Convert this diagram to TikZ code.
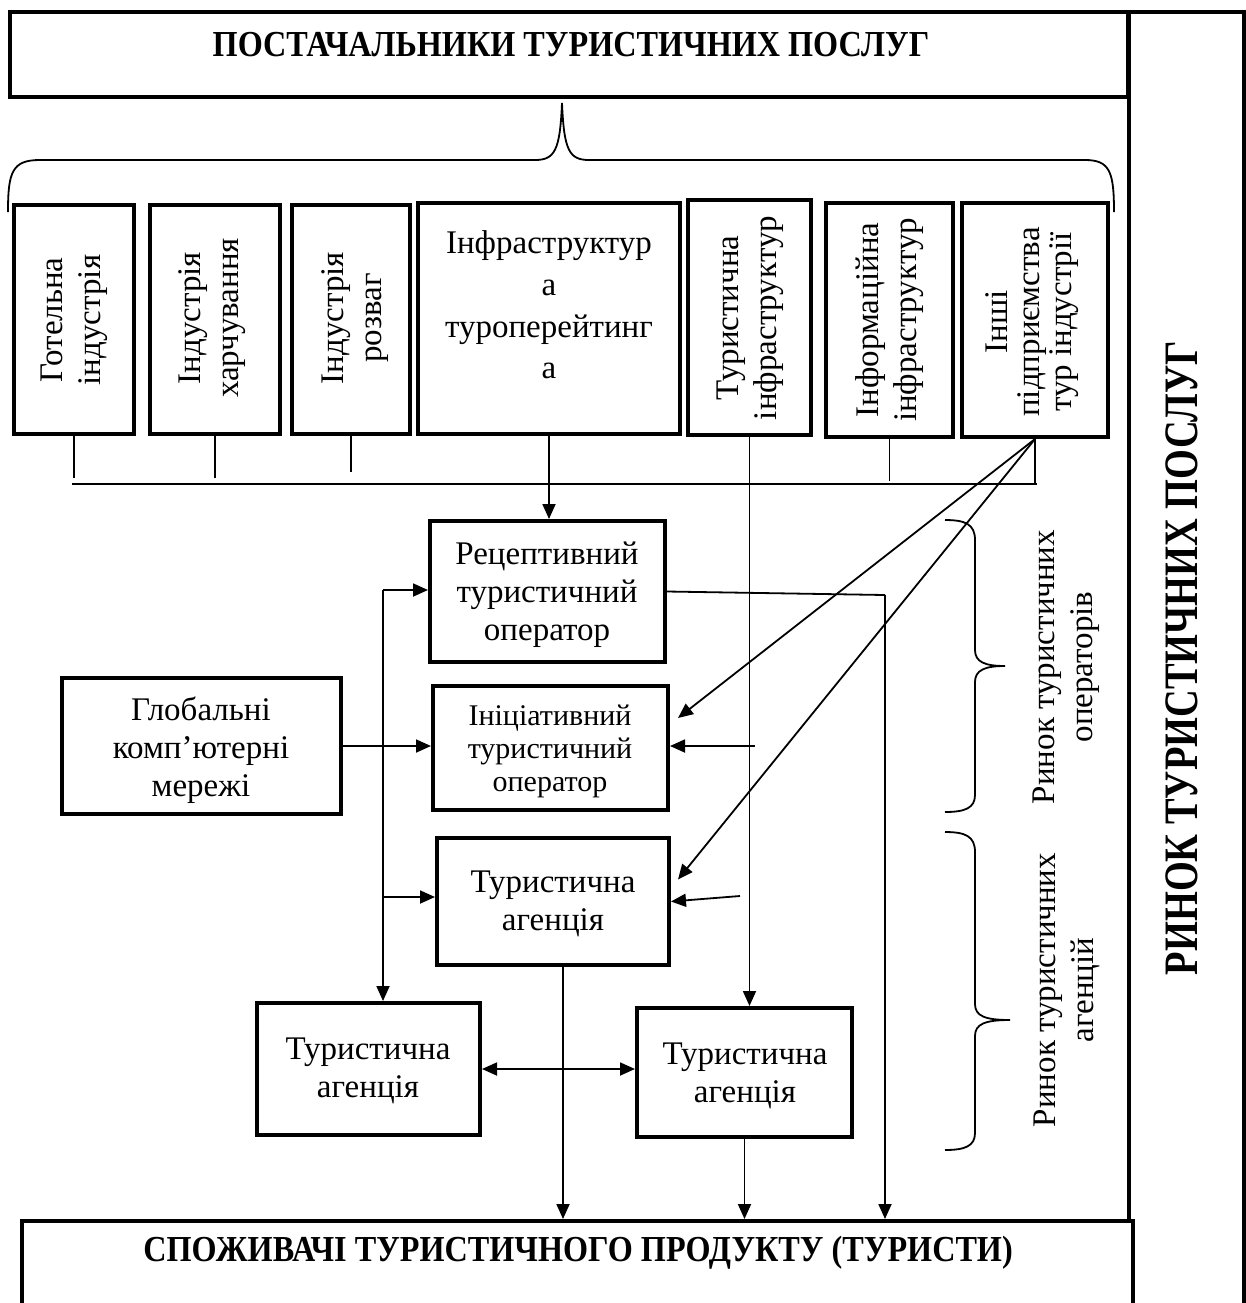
\documentclass[tikz,border=0pt]{standalone}
\usepackage{fontspec}
\setmainfont{Liberation Serif}
\newfontfamily\titlefont[FakeStretch=0.88]{Liberation Serif}
\newfontfamily\bigtitlefont[FakeStretch=0.8]{Liberation Serif}
\usetikzlibrary{arrows.meta,fit,calc}
\begin{document}
\begin{tikzpicture}[x=0.5pt,y=-0.5pt,
 box/.style={draw,line width=2pt,inner sep=0pt},
 conn/.style={line width=0.9pt},
 arr/.style={conn,-{Triangle[length=7.5pt,width=6.5pt]}},
 darr/.style={conn,{Triangle[length=7.5pt,width=6.5pt]}-{Triangle[length=7.5pt,width=6.5pt]}},
 txt/.style={font=\fontsize{16.5}{19}\selectfont,align=center,inner sep=0pt},
 smalltxt/.style={font=\fontsize{15}{16.5}\selectfont,align=center,inner sep=0pt},
 boldtxt/.style={font=\titlefont\fontsize{18.3}{21}\selectfont\bfseries,inner sep=0pt},
 vtxt/.style={txt,rotate=90},
 brace/.style={line width=0.9pt}]
\useasboundingbox (0,0) rectangle (1246,1303);
\clip (0,0) rectangle (1246,1303);

% frame boxes
\node[box,fit={(10,12)(1128,97)}] (sup) {};
\node[boldtxt] (suptxt) at (571,45) {ПОСТАЧАЛЬНИКИ ТУРИСТИЧНИХ ПОСЛУГ};
\draw[line width=2pt] (1129,1221) -- (1129,12) -- (1244,12) -- (1244,1330);
\node[boldtxt,font=\bigtitlefont\fontsize{24}{26}\selectfont\bfseries,rotate=90] (mkttxt) at (1182,658) {РИНОК ТУРИСТИЧНИХ ПОСЛУГ};
\node[box,fit={(22,1221)(1133,1330)}] (cons) {};
\node[boldtxt] (constxt) at (578,1253) {СПОЖИВАЧІ ТУРИСТИЧНОГО ПРОДУКТУ (ТУРИСТИ)};

% top brace
\draw[brace] (8,212) .. controls (8,172) and (12,160) .. (40,160) -- (535,160)
  .. controls (555,160) and (560,150) .. (562,103)
  .. controls (564,150) and (569,160) .. (589,160) -- (1085,160)
  .. controls (1110,160) and (1114,172) .. (1114,212);

% supplier boxes
\node[box,fit={(14,205)(134,434)}] (b1) {};
\node[vtxt] (b1t) at (74,320) {Готельна\\індустрія};
\node[box,fit={(150,205)(280,434)}] (b2) {};
\node[vtxt] (b2t) at (212,318) {Індустрія\\харчування};
\node[box,fit={(292,205)(410,434)}] (b3) {};
\node[vtxt] (b3t) at (355,318) {Індустрія\\розваг};
\node[box,fit={(418,203)(680,434)}] (b4) {};
\node[txt,font=\fontsize{16.5}{20.8}\selectfont] (b4t) at (549,305) {Інфраструктур\\а\\туроперейтинг\\а};
\node[box,fit={(688,200)(811,435)}] (b5) {};
\node[vtxt] (b5t) at (750,318) {Туристична\\інфраструктур};
\node[box,fit={(826,203)(953,437)}] (b6) {};
\node[vtxt] (b6t) at (890,320) {Інформаційна\\інфраструктур};
\node[box,fit={(962,203)(1108,437)}] (b7) {};
\node[vtxt,font=\fontsize{16.5}{16}\selectfont] (b7t) at (1032,322) {Інші\\підприємства\\тур індустрії};

% middle boxes
\node[box,fit={(430,521)(665,662)}] (rec) {};
\node[txt] (rect) at (547,595) {Рецептивний\\туристичний\\оператор};
\node[box,fit={(433,686)(668,810)}] (ini) {};
\node[smalltxt] (init) at (550,751) {Ініціативний\\туристичний\\оператор};
\node[box,fit={(62,678)(341,814)}] (glob) {};
\node[txt] (globt) at (201,750) {Глобальні\\комп’ютерні\\мережі};
\node[box,fit={(437,838)(669,965)}] (agM) {};
\node[txt] (agMt) at (553,904) {Туристична\\агенція};
\node[box,fit={(257,1003)(480,1135)}] (agL) {};
\node[txt] (agLt) at (368,1071) {Туристична\\агенція};
\node[box,fit={(637,1008)(852,1137)}] (agR) {};
\node[txt] (agRt) at (745,1076) {Туристична\\агенція};

% bus
\coordinate (busL) at (72,484);
\coordinate (busR) at (1037,484);
\draw[conn] (busL) -- (busR);
\draw[conn] (b1.south) -- ($(b1.south |- busL)+(0,-6)$);
\draw[conn] (b2.south) -- ($(b2.south |- busL)+(0,-6)$);
\draw[conn] (b3.south) -- ($(b3.south |- busL)+(0,-12)$);
\draw[conn] (b6.south) -- ($(b6.south |- busL)+(0,-3)$);
\draw[conn] (b7.south) -- (b7.south |- busL);

% arrows
\draw[arr] (b4.south) -- (b4.south |- rec.north);
\draw[arr] (b5.south) -- (b5.south |- agR.north);
\draw[arr] (b7.south) -- ($(ini.east)+(8,-30)$);
\draw[arr] (b7.south) -- ($(agM.east)+(7,-22)$);

\coordinate (iniR) at (755,746);
\draw[arr] (iniR) -- (ini.east |- iniR);
\coordinate (agMR) at (740,896);
\draw[arr] (agMR) -- (agM.east);

\coordinate (L1) at (383,590);
\coordinate (L2) at (383,897);
\draw[arr] (L1) -- (L1 |- agL.north);
\draw[arr] (L1) -- (rec.west |- L1);
\draw[arr] (L2) -- (agM.west |- L2);
\draw[arr] (glob.east) -- (ini.west |- glob.east);

\coordinate (R1) at (885,595);
\draw[conn] (rec.east) -- (R1);
\draw[arr] (R1) -- (R1 |- cons.north);
\draw[arr] ($(agM.south)+(10,0)$) -- ($(agM.south |- cons.north)+(10,0)$);
\draw[arr] (agR.south) -- (agR.south |- cons.north);
\draw[darr] (agL.east) -- (agL.east -| agR.west);

% right braces
\draw[brace] (945,520) .. controls (965,520) and (975,524) .. (975,540) -- (975,650)
  .. controls (975,662) and (985,666) .. (1005,666)
  .. controls (985,666) and (975,670) .. (975,682) -- (975,795)
  .. controls (975,808) and (965,812) .. (945,812);
\draw[brace] (945,832) .. controls (965,832) and (975,836) .. (975,852) -- (975,1004)
  .. controls (975,1016) and (985,1020) .. (1010,1020)
  .. controls (985,1020) and (975,1024) .. (975,1036) -- (975,1133)
  .. controls (975,1146) and (965,1150) .. (945,1150);

\node[vtxt] (opl) at (1066,667) {Ринок туристичних\\операторів};
\node[vtxt] (agl) at (1067,990) {Ринок туристичних\\агенцій};
\end{tikzpicture}
\end{document}
